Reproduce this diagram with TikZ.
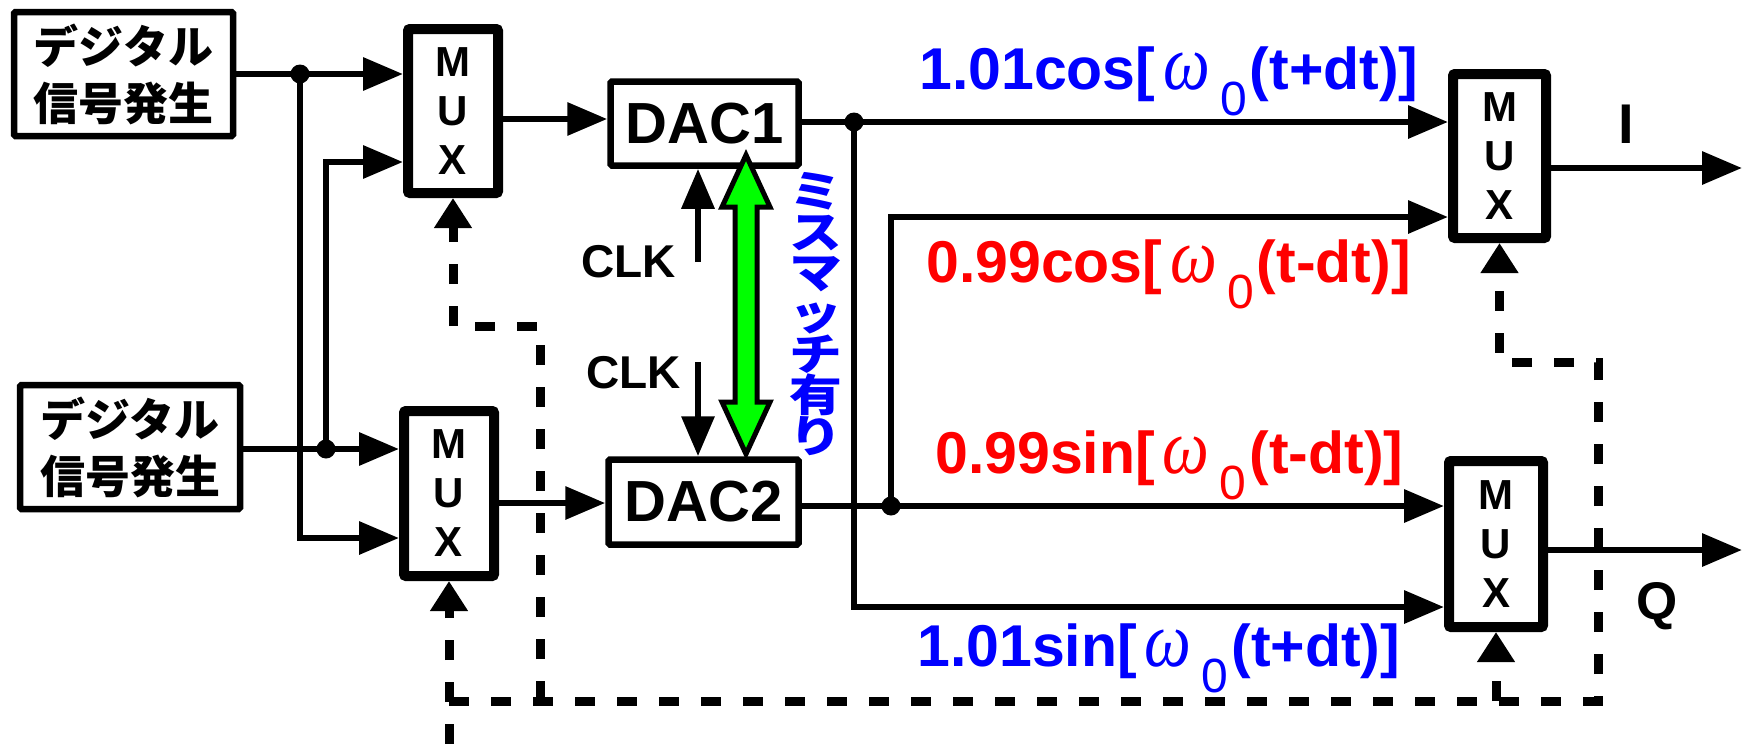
\documentclass[tikz,border=0pt]{standalone}
\usepackage{fontspec}
\setmainfont{Liberation Sans}
\newfontfamily\jpfont{Noto Sans CJK JP}
\newfontfamily\grkfont{Liberation Serif}
\usetikzlibrary{arrows.meta}
\definecolor{myblue}{RGB}{0,0,255}
\definecolor{myred}{RGB}{255,0,0}
\definecolor{mygreen}{RGB}{0,255,0}
\newcommand{\omegazero}{\hspace{8pt}\scalebox{0.85}[1]{\grkfont\mdseries\itshape\fontsize{78}{78}\selectfont ω}\hspace{10pt}\raisebox{-26pt}{\mdseries\fontsize{48}{48}\selectfont 0}\hspace{3pt}}
\newcommand{\wch}[1]{\scalebox{1.2}[1]{#1}}
\begin{document}
\begin{tikzpicture}[x=1pt,y=-1pt,
  gen/.style={draw,line width=6.5pt,rounded corners=1.5pt,inner sep=0pt,align=center,font=\jpfont\bfseries\fontsize{45}{57}\selectfont},
  mux/.style={draw,line width=10pt,rounded corners=2pt,inner sep=0pt,align=center,font=\bfseries\fontsize{42}{49}\selectfont},
  dac/.style={draw,line width=6.5pt,rounded corners=1.5pt,inner sep=0pt,font=\bfseries\fontsize{58}{58}\selectfont},
  wire/.style={line width=6.5pt},
  arr/.style={wire,-{Triangle[length=40pt,width=32pt]}},
  ctl/.style={line width=9pt,dash pattern=on 20pt off 22pt},
  ctlarr/.style={ctl,-{Triangle[length=30pt,width=36pt]}},
  jdot/.style={circle,fill=black,inner sep=0pt,minimum size=19pt},
  lbl/.style={anchor=base west,inner sep=0pt,font=\bfseries\fontsize{59}{59}\selectfont},
  blk/.style={inner sep=0pt,font=\bfseries\fontsize{46}{46}\selectfont},
]
\useasboundingbox (0,0) rectangle (1746,744);

% blocks
\node[gen,minimum width=219pt,minimum height=124pt] (gen1) at (123.5,74) {デジタル\\信号発生};
\node[gen,minimum width=220pt,minimum height=124pt] (gen2) at (130,447) {デジタル\\信号発生};
\node[mux,minimum width=90pt,minimum height=164pt] (mux1) at (453,111) {M\\U\\X};
\node[mux,minimum width=90pt,minimum height=165pt] (mux2) at (449,493.5) {M\\U\\X};
\node[mux,minimum width=93pt,minimum height=164pt] (mux3) at (1499.5,156) {M\\U\\X};
\node[mux,minimum width=94pt,minimum height=166pt] (mux4) at (1496,544) {M\\U\\X};
\node[dac,minimum width=188pt,minimum height=84pt] (dac1) at (704.5,123.5) {DAC1};
\node[dac,minimum width=190pt,minimum height=85pt] (dac2) at (703.5,502) {DAC2};

% junction points
\node[jdot] (d1) at (300,74) {};
\node[jdot] (d2) at (326,449) {};
\node[jdot] (d3) at (854,122) {};
\node[jdot] (d4) at (891,506) {};

% control (dashed) lines
\coordinate (k1) at (453,326);
\coordinate (k2) at (540,326);
\coordinate (k3) at (540,701);
\coordinate (k4) at (449,701);
\coordinate (k5) at (1598,701);
\coordinate (k6) at (1598,362);
\coordinate (kb) at (449,744);
\draw[ctlarr] (k3) -- (k2) -- (k1) -- (mux1.south);
\draw[ctlarr] (k4) -- (k5) -- (k6) -- (mux3.south |- k6) -- (mux3.south);
\draw[ctlarr] (kb) -- (mux2.south);
\draw[ctlarr] (mux4.south |- k4) -- (mux4.south);

% wires
\draw[arr] (gen1.east) -- (mux1.west |- gen1.east);
\draw[arr] (d1.center) |- (mux2.west |- 0,538);
\draw[arr] (gen2.east |- d2) -- (mux2.west |- d2);
\draw[arr] (d2.center) |- (mux1.west |- 0,162);
\draw[arr] (mux1.east |- 0,119) -- (dac1.west |- 0,119);
\draw[arr] (mux2.east |- 0,503) -- (dac2.west |- 0,503);
\draw[arr] (dac1.east |- d3) -- (mux3.west |- d3);
\draw[arr] (d3.center) |- (mux4.west |- 0,607);
\draw[arr] (dac2.east |- d4) -- (mux4.west |- d4);
\draw[arr] (d4.center) |- (mux3.west |- 0,217);
\coordinate (oI) at (1742,168);
\coordinate (oQ) at (1742,550);
\draw[arr] (mux3.east |- oI) -- (oI);
\draw[arr] (mux4.east |- oQ) -- (oQ);

% clocks
\coordinate (c1) at (698,262);
\coordinate (c2) at (698,362);
\draw[arr] (c1) -- (dac1.south -| c1);
\draw[arr] (c2) -- (dac2.north -| c2);
\node[blk,anchor=base east] (clk1) at (676,277) {CLK};
\node[blk,anchor=base east] (clk2) at (681,388) {CLK};

% mismatch double arrow
\draw[line width=5pt,fill=mygreen,miter limit=10] (746,155) -- (770,207) -- (757,207) -- (757,402) -- (770,402) -- (746,454) -- (722,402) -- (735,402) -- (735,207) -- (722,207) -- cycle;
\node[font=\jpfont\bfseries\fontsize{44}{40.6}\selectfont,text=myblue,align=center,inner sep=0pt] (mis) at (816,314) {\wch{ミ}\\\wch{ス}\\\wch{マ}\\\wch{ッ}\\\wch{チ}\\\wch{有}\\\wch{り}};

% signal labels
\node[lbl,text=myblue] (l1) at (919,89) {1.01cos[\omegazero(t+dt)]};
\node[lbl,text=myred] (l2) at (926,282) {0.99cos[\omegazero(t-dt)]};
\node[lbl,text=myred] (l3) at (935,473) {0.99sin[\omegazero(t-dt)]};
\node[lbl,text=myblue] (l4) at (917,666) {1.01sin[\omegazero(t+dt)]};

\node[anchor=base,inner sep=0pt,font=\bfseries\fontsize{56}{56}\selectfont] (ilbl) at (1626,143) {I};
\node[anchor=base west,inner sep=0pt,font=\bfseries\fontsize{53}{53}\selectfont] (qlbl) at (1636,619) {Q};
\end{tikzpicture}
\end{document}
